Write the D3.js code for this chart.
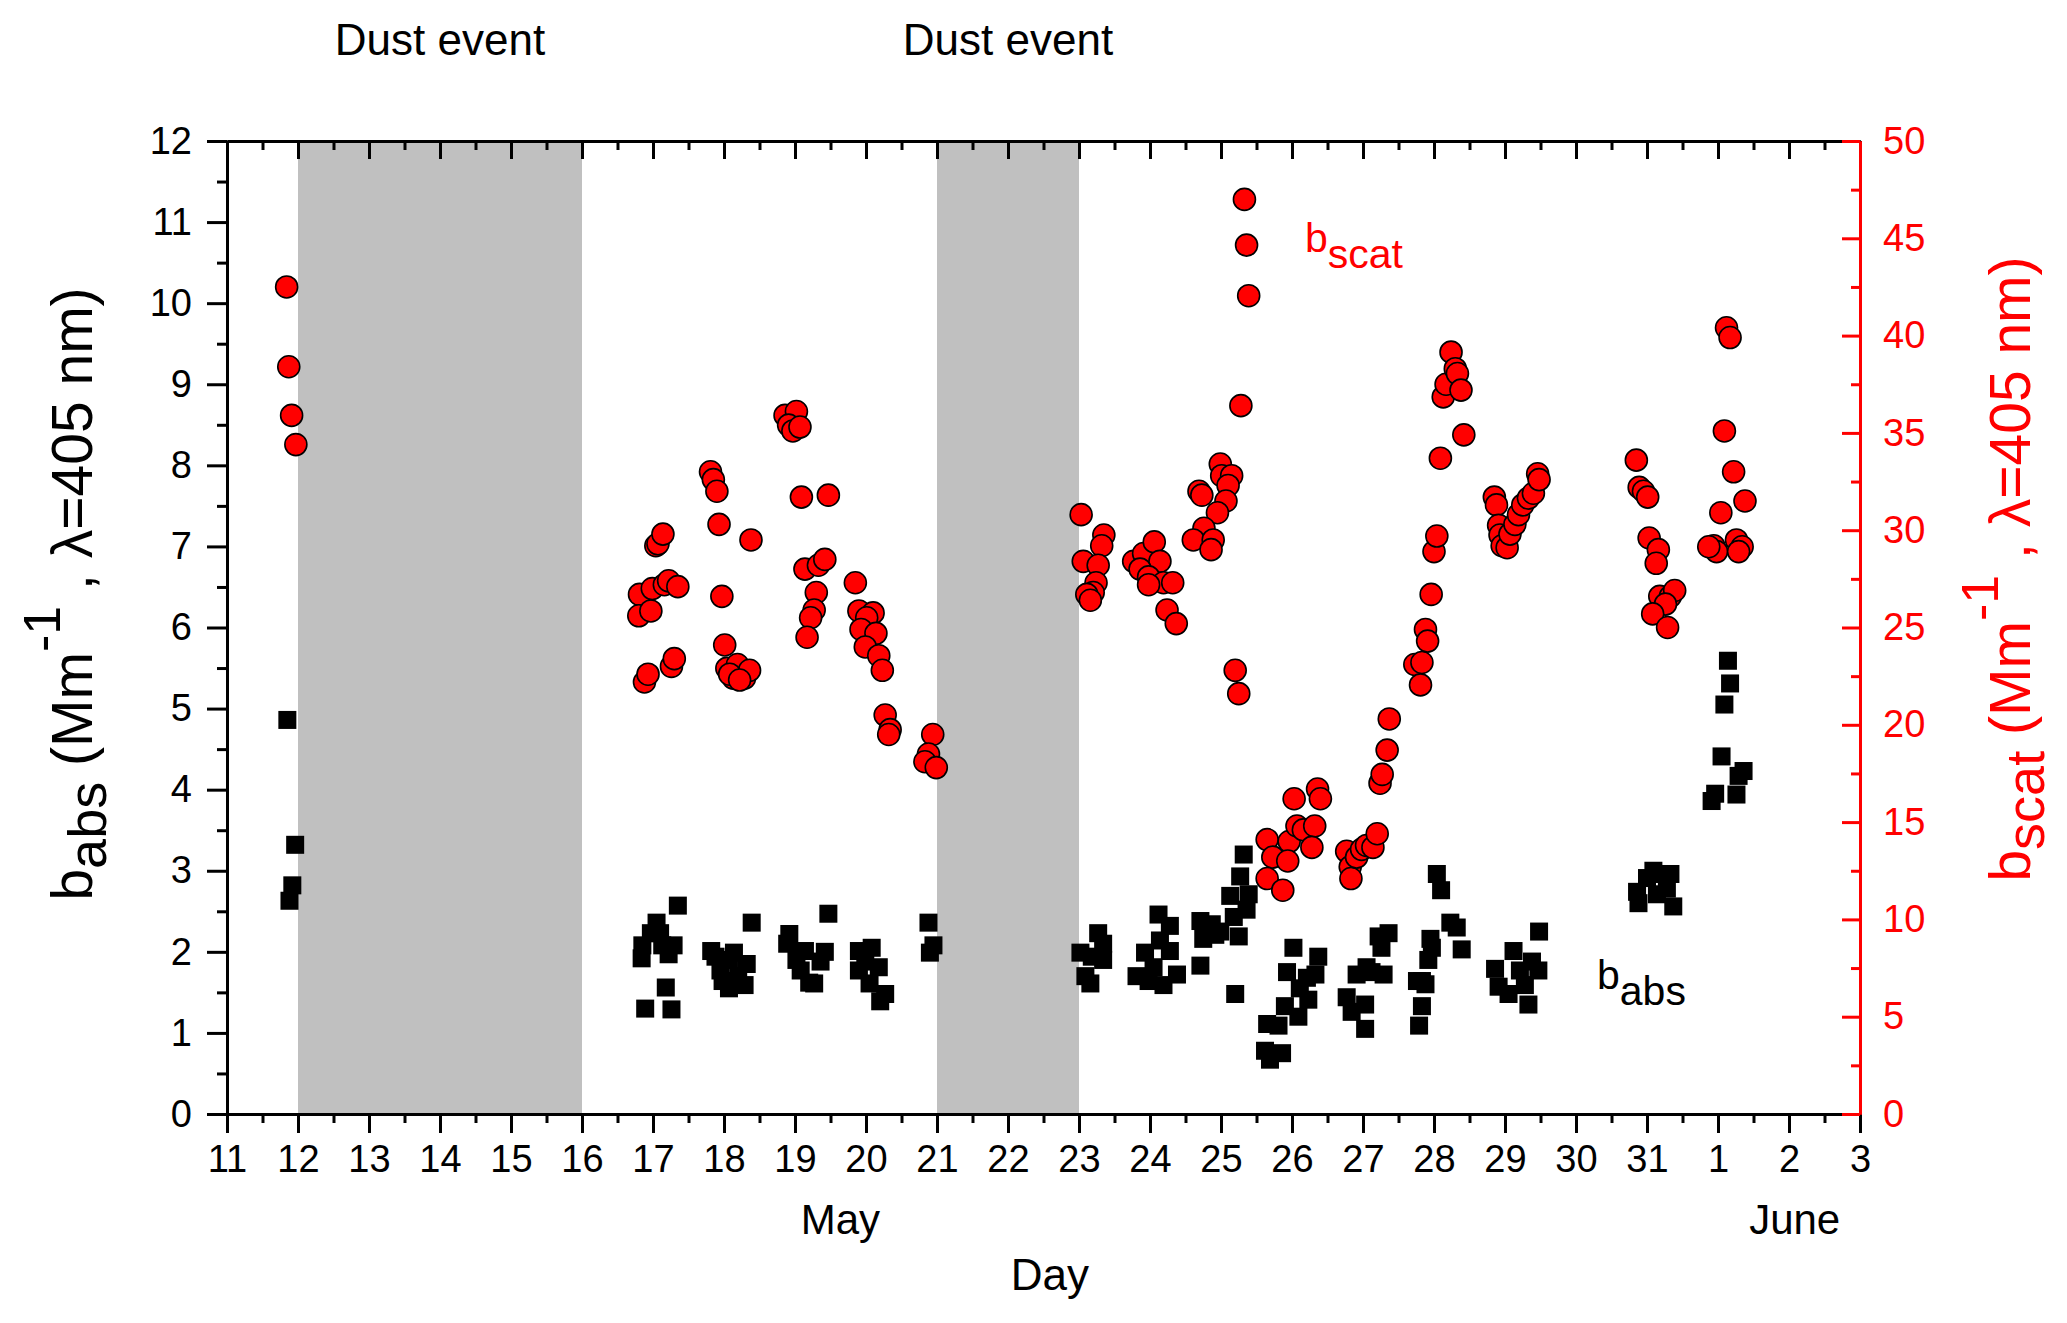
<!DOCTYPE html>
<html>
<head>
<meta charset="utf-8">
<script src="https://cdn.jsdelivr.net/npm/d3@7"></script>
<style>
  html, body { margin: 0; padding: 0; background: #fff; }
  svg { display: block; font-family: "Liberation Sans", Arial, sans-serif; }
</style>
</head>
<body>
<div id="chart"></div>
<script>
// ============================================
// DATA  (x = day of May, so June 1 = 32)
// ============================================

const dayTicks = d3.range(11, 35);
const dayTickLabels = [11, 12, 13, 14, 15, 16, 17, 18, 19, 20, 21, 22, 23, 24, 25, 26, 27, 28, 29, 30, 31, 1, 2, 3];
const monthLabels = ['May', 'June'];
const monthPos = [19.64, 33.08];

const dustStart = [12, 21];
const dustEnd = [16, 23];

const absTicks = d3.range(0, 13);
const scatTicks = d3.range(0, 51, 5);

// b_scat (right axis, Mm-1)
const scatDay = [
  11.84, 11.87, 11.91, 11.97,
  16.81, 16.80, 16.97, 16.99, 17.16, 17.22, 17.35, 17.04, 17.07, 17.14, 16.88, 16.93, 17.26, 17.30,
  17.81, 17.85, 17.90, 17.93, 18.38, 17.97, 18.01, 18.04, 18.19, 18.13, 18.29, 18.36, 18.08, 18.22,
  18.86, 19.02, 18.91, 18.97, 19.07, 19.09, 19.47, 19.14, 19.33, 19.42, 19.30, 19.27, 19.22, 19.17,
  19.85, 19.90, 20.10, 20.01, 19.93, 20.14, 19.99, 20.18, 20.23, 20.27, 20.34, 20.32,
  20.94, 20.88, 20.83, 20.99,
  23.03, 23.35, 23.32, 23.06, 23.27, 23.24, 23.20, 23.11, 23.16,
  23.77, 23.91, 24.06, 24.14, 23.86, 23.98, 24.19, 24.32, 23.98, 24.24, 24.37,
  24.69, 24.73, 24.99, 25.01, 25.15, 25.10, 25.07, 24.95, 24.76, 24.61, 24.89, 24.86,
  25.28, 25.39, 25.36, 25.33, 25.20, 25.25,
  25.65, 25.73, 25.65, 25.87, 25.96, 25.94, 26.03, 26.07, 26.16, 26.32, 26.28, 26.36, 26.40,
  26.77, 26.82, 26.83, 26.91, 26.98, 27.05, 27.14, 27.20, 27.24, 27.27, 27.34, 27.37,
  27.73, 27.83, 27.81, 27.88, 27.91, 27.96, 28.00, 28.04, 28.09, 28.13, 28.17, 28.24, 28.30, 28.33, 28.38, 28.42,
  28.85, 28.88, 28.91, 28.93, 28.96, 29.03, 29.07, 29.14, 29.19, 29.25, 29.33, 29.40, 29.46, 29.48,
  30.85, 30.89, 30.95, 31.01, 31.03, 31.16, 31.13, 31.18, 31.33, 31.39, 31.26, 31.08, 31.29,
  32.12, 32.17, 32.09, 32.22, 32.38, 32.04, 31.94, 31.98, 32.26, 32.34, 32.29, 31.87
];
const scatVal = [
  42.5, 38.4, 35.9, 34.4,
  26.7, 25.6, 25.85, 27.0, 27.2, 27.4, 27.1, 29.2, 29.3, 29.8, 22.2, 22.6, 23.0, 23.4,
  33.0, 32.6, 32.0, 30.3, 29.5, 26.6, 24.1, 22.9, 23.1, 22.4, 22.4, 22.8, 22.6, 22.3,
  35.9, 36.1, 35.4, 35.1, 35.3, 31.7, 31.8, 28.0, 28.2, 28.5, 26.8, 25.9, 25.5, 24.5,
  27.3, 25.85, 25.75, 25.5, 24.9, 24.7, 24.0, 23.55, 22.8, 20.5, 19.75, 19.5,
  19.5, 18.5, 18.1, 17.8,
  30.8, 29.75, 29.2, 28.4, 28.2, 27.3, 26.8, 26.7, 26.4,
  28.4, 28.8, 29.4, 28.4, 28.0, 27.6, 27.3, 27.3, 27.2, 25.9, 25.2,
  32.0, 31.8, 33.4, 32.8, 32.8, 32.3, 31.5, 30.9, 30.1, 29.5, 29.5, 29.0,
  36.4, 42.05, 44.65, 47.0, 22.8, 21.6,
  14.1, 13.2, 12.1, 11.5, 14.0, 13.0, 16.2, 14.8, 14.6, 14.8, 13.7, 16.7, 16.2,
  13.5, 12.7, 12.1, 13.2, 13.6, 13.8, 13.7, 14.4, 17.0, 17.45, 18.7, 20.3,
  23.1, 23.2, 22.05, 24.9, 24.3, 26.7, 28.9, 29.7, 33.7, 36.85, 37.5, 39.15, 38.3, 38.05, 37.2, 34.9,
  31.7, 31.3, 30.25, 29.75, 29.2, 29.1, 29.8, 30.3, 30.8, 31.3, 31.65, 31.9, 32.9, 32.6,
  33.6, 32.2, 32.0, 31.7, 29.6, 29.0, 28.3, 26.6, 26.6, 26.9, 26.2, 25.7, 25.0,
  40.4, 39.9, 35.1, 33.0, 31.5, 30.9, 29.2, 28.9, 29.5, 29.15, 28.9, 29.15
];

// b_abs (left axis, Mm-1)
const absDay = [
  11.85, 11.96, 11.92, 11.88,
  16.84, 16.85, 16.89, 17.05, 16.97, 17.10, 17.13, 17.22, 17.29, 17.18, 17.26, 17.35,
  17.82, 17.88, 17.95, 18.07, 17.98, 18.07, 18.20, 18.29, 18.32, 18.39, 18.14,
  18.92, 18.89, 19.02, 19.14, 19.42, 19.36, 19.27, 19.08, 19.47, 19.20,
  19.90, 20.08, 19.99, 19.90, 20.18, 20.05, 20.27, 20.20,
  20.88, 20.95, 20.90,
  23.02, 23.27, 23.34, 23.18, 23.09, 23.16, 23.34,
  24.12, 24.28, 24.14, 23.93, 24.28, 23.81, 23.98, 24.19, 24.38, 24.05,
  24.71, 24.71, 24.75, 24.87, 24.92, 24.99, 25.13, 25.18, 25.25, 25.27, 25.32, 25.39, 25.36, 25.20,
  25.65, 25.81, 25.62, 25.69, 25.86, 26.02, 25.93, 25.90, 26.09, 26.11, 26.21, 26.33, 26.37, 26.23,
  26.77, 26.84, 27.03, 26.91, 27.05, 27.29, 27.22, 27.36, 27.26, 27.03, 27.12,
  28.04, 28.10, 28.23, 28.32, 28.39, 27.95, 27.92, 27.83, 27.76, 27.88, 27.83, 27.79, 27.97,
  28.86, 28.91, 29.05, 29.12, 29.21, 29.38, 29.47, 29.33, 29.48, 29.28,
  30.86, 30.88, 31.00, 31.09, 31.21, 31.33, 31.14, 31.37, 31.28,
  32.14, 32.17, 32.09, 32.05, 32.36, 32.29, 31.96, 31.91, 32.26
];
const absVal = [
  4.86, 3.32, 2.82, 2.63,
  1.92, 2.08, 1.30, 2.36, 2.23, 2.23, 2.08, 1.97, 2.08, 1.56, 1.29, 2.57,
  2.01, 1.94, 1.77, 1.90, 1.64, 1.55, 1.70, 1.59, 1.85, 2.36, 1.99,
  2.22, 2.10, 1.90, 2.01, 2.00, 1.88, 1.61, 1.77, 2.47, 1.62,
  2.01, 2.05, 1.88, 1.77, 1.81, 1.61, 1.48, 1.39,
  2.36, 2.08, 1.99,
  1.99, 2.23, 2.10, 1.94, 1.70, 1.61, 1.90,
  2.46, 2.32, 2.14, 1.99, 2.01, 1.70, 1.64, 1.59, 1.72, 1.81,
  1.83, 2.38, 2.16, 2.34, 2.21, 2.25, 2.69, 2.43, 2.19, 2.93, 3.20, 2.71, 2.52, 1.48,
  1.11, 1.09, 0.78, 0.67, 0.75, 2.05, 1.75, 1.33, 1.20, 1.55, 1.68, 1.72, 1.94, 1.41,
  1.44, 1.26, 1.05, 1.72, 1.81, 1.72, 2.19, 2.23, 2.05, 1.35, 1.75,
  2.96, 2.76, 2.36, 2.30, 2.03, 2.16, 1.90, 1.64, 1.64, 1.60, 1.33, 1.09, 2.05,
  1.79, 1.57, 1.48, 2.01, 1.77, 1.88, 1.77, 1.35, 2.25, 1.59,
  2.74, 2.60, 2.91, 3.00, 2.96, 2.96, 2.71, 2.56, 2.78,
  5.59, 5.31, 5.05, 4.41, 4.23, 4.17, 3.95, 3.86, 3.94
];

// ============================================
// SETUP
// ============================================

const W = 2067, H = 1323;
const plot = { left: 227, right: 1860, top: 141, bottom: 1114 };
const RED = '#ff0000';
const SHADE = '#c0c0c0';

const x = d3.scaleLinear().domain([11, 34]).range([plot.left, plot.right]);
const yAbs = d3.scaleLinear().domain([0, 12]).range([plot.bottom, plot.top]);
const yScat = d3.scaleLinear().domain([0, 50]).range([plot.bottom, plot.top]);

const svg = d3.select('#chart').append('svg')
  .attr('width', W)
  .attr('height', H);

svg.append('rect').attr('width', W).attr('height', H).attr('fill', '#fff');

// dust event shading
const dust = d3.range(dustStart.length).map(i => ({ a: dustStart[i], b: dustEnd[i] }));

svg.append('g').selectAll('rect')
  .data(dust)
  .join('rect')
  .attr('x', d => x(d.a))
  .attr('width', d => x(d.b) - x(d.a))
  .attr('y', plot.top)
  .attr('height', plot.bottom - plot.top)
  .attr('fill', SHADE);

svg.append('g').selectAll('text')
  .data(dust)
  .join('text')
  .attr('x', d => x((d.a + d.b) / 2))
  .attr('y', 55)
  .attr('text-anchor', 'middle')
  .attr('font-size', 44)
  .attr('fill', '#000')
  .text('Dust event');

// ============================================
// MARKERS
// ============================================

const absPts = absDay.map((d, i) => ({ d, v: absVal[i] }));
const scatPts = scatDay.map((d, i) => ({ d, v: scatVal[i] }));
const sq = 18;

svg.append('g').selectAll('rect')
  .data(absPts)
  .join('rect')
  .attr('x', p => x(p.d) - sq / 2)
  .attr('y', p => yAbs(p.v) - sq / 2)
  .attr('width', sq)
  .attr('height', sq)
  .attr('fill', '#000');

svg.append('g').selectAll('circle')
  .data(scatPts)
  .join('circle')
  .attr('cx', p => x(p.d))
  .attr('cy', p => yScat(p.v))
  .attr('r', 11)
  .attr('fill', RED)
  .attr('stroke', '#000')
  .attr('stroke-width', 1.6);

// ============================================
// AXES
// ============================================

function styleAxis(g, color, size) {
  g.selectAll('line, path').attr('stroke', color).attr('stroke-width', 3);
  g.selectAll('text')
    .attr('fill', color)
    .attr('font-size', size)
    .attr('font-family', '"Liberation Sans", Arial, sans-serif');
  return g;
}

const halfDays = d3.range(11.5, 34, 1);

// bottom
svg.append('g')
  .attr('transform', `translate(0,${plot.bottom})`)
  .call(d3.axisBottom(x).tickValues(halfDays).tickSize(9).tickSizeOuter(0).tickFormat(''))
  .call(g => styleAxis(g, '#000', 38));

svg.append('g')
  .attr('transform', `translate(0,${plot.bottom})`)
  .call(d3.axisBottom(x).tickValues(dayTicks).tickSize(19).tickSizeOuter(0)
    .tickPadding(12).tickFormat((d, i) => dayTickLabels[i]))
  .call(g => styleAxis(g, '#000', 38));

// top (ticks inward, no labels)
svg.append('g')
  .attr('transform', `translate(0,${plot.top})`)
  .call(d3.axisTop(x).tickValues(halfDays).tickSize(-9).tickSizeOuter(0).tickFormat(''))
  .call(g => styleAxis(g, '#000', 38));

svg.append('g')
  .attr('transform', `translate(0,${plot.top})`)
  .call(d3.axisTop(x).tickValues(dayTicks).tickSize(-18).tickSizeOuter(0).tickFormat(''))
  .call(g => styleAxis(g, '#000', 38));

// left
svg.append('g')
  .attr('transform', `translate(${plot.left},0)`)
  .call(d3.axisLeft(yAbs).tickValues(d3.range(0.5, 12, 1)).tickSize(10).tickSizeOuter(0).tickFormat(''))
  .call(g => styleAxis(g, '#000', 38));

svg.append('g')
  .attr('transform', `translate(${plot.left},0)`)
  .call(d3.axisLeft(yAbs).tickValues(absTicks).tickSize(20).tickSizeOuter(0).tickPadding(15).tickFormat(d3.format('d')))
  .call(g => styleAxis(g, '#000', 38));

// right (red, ticks inward)
svg.append('g')
  .attr('transform', `translate(${plot.right},0)`)
  .call(d3.axisRight(yScat).tickValues(d3.range(2.5, 50, 5)).tickSize(-9).tickSizeOuter(0).tickFormat(''))
  .call(g => styleAxis(g, RED, 38));

svg.append('g')
  .attr('transform', `translate(${plot.right},0)`)
  .call(d3.axisRight(yScat).tickValues(scatTicks).tickSize(-18).tickSizeOuter(0).tickPadding(23).tickFormat(d3.format('d')))
  .call(g => styleAxis(g, RED, 38));

// ============================================
// TITLES & LABELS
// ============================================

function subLabel(parent, base, sub, opts) {
  const t = parent.append('text')
    .attr('font-size', opts.size)
    .attr('fill', opts.color);
  t.append('tspan').text(base);
  t.append('tspan').attr('dy', opts.subShift).text(sub);
  return t;
}

function axisTitle(cx, cy, base, sub, color) {
  const t = svg.append('text')
    .attr('transform', `translate(${cx},${cy}) rotate(-90)`)
    .attr('text-anchor', 'middle')
    .attr('font-size', 57)
    .attr('fill', color);
  t.append('tspan').text(base);
  t.append('tspan').attr('dy', 14).attr('font-size', 54).text(sub);
  t.append('tspan').attr('dy', -14).text(' (Mm');
  t.append('tspan').attr('dy', -32).attr('font-size', 52).text('-1');
  t.append('tspan').attr('dy', 32).text('  ,  \u03bb=405 nm)');
  return t;
}

axisTitle(92, 594, 'b', 'abs', '#000');
axisTitle(2030, 569, 'b', 'scat', RED);

subLabel(svg, 'b', 'scat', { size: 41, color: RED, subShift: 16 })
  .attr('x', 1305).attr('y', 252);
subLabel(svg, 'b', 'abs', { size: 41, color: '#000', subShift: 16 })
  .attr('x', 1597).attr('y', 989);

svg.append('g').selectAll('text')
  .data(monthLabels)
  .join('text')
  .attr('x', (d, i) => x(monthPos[i]))
  .attr('y', 1234)
  .attr('text-anchor', 'middle')
  .attr('font-size', 42)
  .text(d => d);

svg.append('text')
  .attr('x', x(22.59))
  .attr('y', 1290)
  .attr('text-anchor', 'middle')
  .attr('font-size', 44)
  .text('Day');
</script>
</body>
</html>
